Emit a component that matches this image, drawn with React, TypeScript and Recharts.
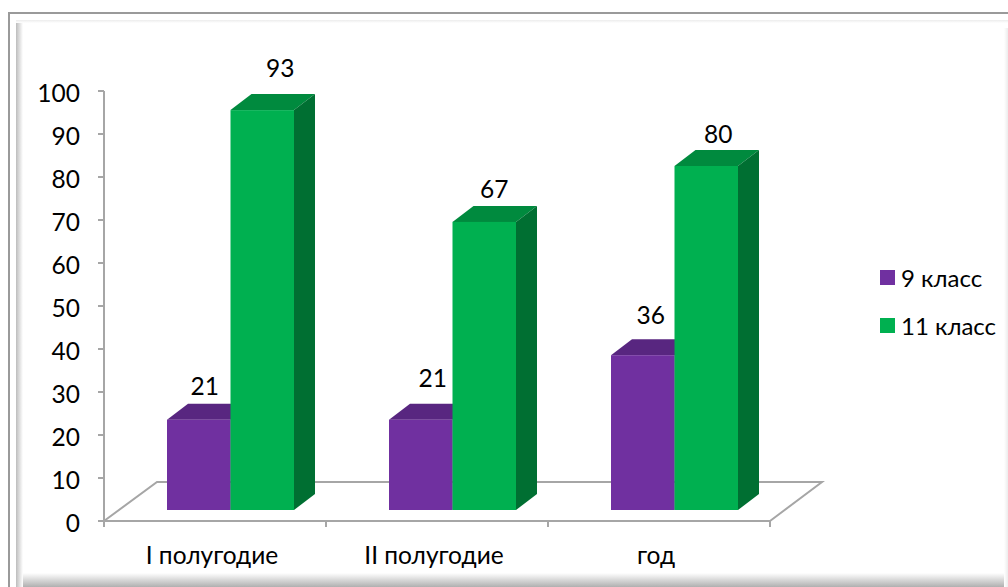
import { BarChart, Bar, XAxis, YAxis, Legend, LabelList } from "recharts";

const periods = ["I полугодие", "II полугодие", "год"];
const grade9 = [21, 21, 36];
const grade11 = [93, 67, 80];
const yTicks = [0, 10, 20, 30, 40, 50, 60, 70, 80, 90, 100];

const chartData = periods.map((period, i) => ({
  period,
  grade9: grade9[i],
  grade11: grade11[i],
}));

// where excel pushed the labels, relative to the front top of the bar
const label9Nudge = [[6, -34], [12, -42], [8, -40]];
const label11Nudge = [[18, -42], [10, -33], [12, -32]];

const FONT = "Lato, 'Open Sans', sans-serif";
const FONT_SIZE = 24.5;
const AXIS_COLOR = "#a6a6a6";
const BAND = 222;
const DEPTH_X = 21;
const DEPTH_Y = 16;
// bars stand inside the 3d floor, not on the front edge of the axis
const SHIFT_X = 15;
const SHIFT_Y = -11;

function Box3D(props: any) {
  const { x, y, width, height, fill, topFill, sideFill } = props;
  const l = x + SHIFT_X;
  const r = l + width;
  const t = y + SHIFT_Y;
  const b = t + height;
  return (
    <g>
      <polygon points={`${l},${t} ${l + DEPTH_X},${t - DEPTH_Y} ${r + DEPTH_X},${t - DEPTH_Y} ${r},${t}`} fill={topFill} />
      <polygon points={`${r},${t} ${r + DEPTH_X},${t - DEPTH_Y} ${r + DEPTH_X},${b - DEPTH_Y} ${r},${b}`} fill={sideFill} />
      <rect x={l} y={t} width={width} height={height} fill={fill} />
    </g>
  );
}

function makeLabel(nudge: number[][]) {
  return (props: any) => {
    const { x, y, width, value, index } = props;
    return (
      <text
        x={x + SHIFT_X + width / 2 + nudge[index][0]}
        y={y + SHIFT_Y + nudge[index][1] + 9}
        textAnchor="middle"
        fontFamily={FONT}
        fontSize={FONT_SIZE}
        fill="#000"
      >
        {value}
      </text>
    );
  };
}

// excel puts the ticks between the categories, so draw them at the band edges
function PeriodTick(props: any) {
  const { x, y, payload, index } = props;
  const edge = x - BAND / 2;
  return (
    <g>
      <line x1={edge} y1={521} x2={edge} y2={527} stroke={AXIS_COLOR} strokeWidth={2} />
      {index === periods.length - 1 && (
        <line x1={edge + BAND} y1={521} x2={edge + BAND} y2={527} stroke={AXIS_COLOR} strokeWidth={2} />
      )}
      <text x={x - 3} y={y + 35} textAnchor="middle" fontFamily={FONT} fontSize={FONT_SIZE} fill="#000">
        {payload.value}
      </text>
    </g>
  );
}

function LegendBox(props: any) {
  return (
    <div style={{ fontFamily: FONT, fontSize: 24, color: "#000" }}>
      {props.payload.map((item: any) => (
        <div key={item.value} style={{ display: "flex", alignItems: "center", height: 48 }}>
          <span style={{ width: 15, height: 15, background: item.color, marginRight: 6 }} />
          {item.value}
        </div>
      ))}
    </div>
  );
}

export default function App() {
  return (
    <div style={{ position: "absolute", left: 0, top: 0, width: 1008, height: 587, background: "#fff", overflow: "hidden" }}>
      {/* picture frame round the chart */}
      <div style={{ position: "absolute", left: 8, top: 12, right: -10, bottom: -10, borderLeft: "2px solid #9a9a9a", borderTop: "2px solid #9a9a9a" }} />
      <div style={{ position: "absolute", left: 16, top: 20, width: 7, bottom: 0, background: "linear-gradient(to right, #bdbdbd, #fff)" }} />
      <div style={{ position: "absolute", left: 16, top: 20, right: 0, height: 3, background: "linear-gradient(to bottom, #ececec, #fff)" }} />
      <div style={{ position: "absolute", left: 23, right: 0, bottom: 0, height: 14, background: "linear-gradient(to bottom, #fff, #b0b0b0)" }} />
      <div style={{ position: "absolute", right: 0, top: 28, width: 4, bottom: 0, background: "linear-gradient(to right, #fff, #ececec)" }} />

      <BarChart
        style={{ position: "absolute", left: 0, top: 0 }}
        width={1008}
        height={587}
        data={chartData}
        margin={{ top: 91, right: 238, bottom: 0, left: 0 }}
        barSize={63.5}
        barGap={0}
      >
        {/* floor of the 3d plot */}
        <g fill="none" stroke={AXIS_COLOR} strokeWidth={2}>
          <polyline points="104,521 157,482 822,482 770,521" />
        </g>
        <XAxis
          dataKey="period"
          height={66}
          stroke={AXIS_COLOR}
          strokeWidth={2}
          tickLine={false}
          tick={<PeriodTick />}
        />
        <YAxis
          width={104}
          domain={[0, 100]}
          ticks={yTicks}
          interval={0}
          stroke={AXIS_COLOR}
          strokeWidth={2}
          tickSize={6}
          tickMargin={18}
          tick={{ fontFamily: FONT, fontSize: FONT_SIZE, fill: "#000", dy: 2 }}
        />
        <Bar
          dataKey="grade9"
          name="9 класс"
          fill="#7030A0"
          isAnimationActive={false}
          shape={(p: any) => <Box3D {...p} topFill="#582680" sideFill="#4f2272" />}
        >
          <LabelList dataKey="grade9" content={makeLabel(label9Nudge)} />
        </Bar>
        <Bar
          dataKey="grade11"
          name="11 класс"
          fill="#00B050"
          isAnimationActive={false}
          shape={(p: any) => <Box3D {...p} topFill="#008A3E" sideFill="#006F32" />}
        >
          <LabelList dataKey="grade11" content={makeLabel(label11Nudge)} />
        </Bar>
        <Legend
          layout="vertical"
          verticalAlign="middle"
          align="center"
          itemSorter={null}
          wrapperStyle={{ left: 880, top: 253, width: 128 }}
          content={<LegendBox />}
        />
      </BarChart>
    </div>
  );
}
